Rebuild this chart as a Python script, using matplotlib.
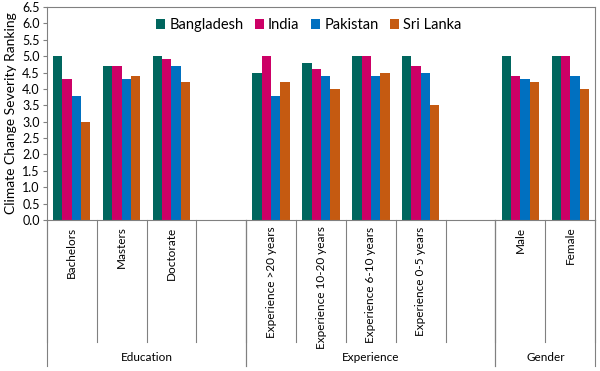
import numpy as np
import matplotlib
matplotlib.use('Agg')
import matplotlib.pyplot as plt

plt.rcParams['font.family'] = ['Lato', 'DejaVu Sans']

categories = ['Bachelors', 'Masters', 'Doctorate', '',
              'Experience >20 years', 'Experience 10-20 years',
              'Experience 6-10 years', 'Experience 0-5 years', '',
              'Male', 'Female']
nan = np.nan
bangladesh = [5.0, 4.7, 5.0, nan, 4.5, 4.8, 5.0, 5.0, nan, 5.0, 5.0]
india      = [4.3, 4.7, 4.9, nan, 5.0, 4.6, 5.0, 4.7, nan, 4.4, 5.0]
pakistan   = [3.8, 4.3, 4.7, nan, 3.8, 4.4, 4.4, 4.5, nan, 4.3, 4.4]
sri_lanka  = [3.0, 4.4, 4.2, nan, 4.2, 4.0, 4.5, 3.5, nan, 4.2, 4.0]
countries = ['Bangladesh', 'India', 'Pakistan', 'Sri Lanka']
colors = ['#00665E', '#CC0066', '#0070C0', '#C55A11']
groups = ['Education', 'Experience', 'Gender']
group_spans = [(0, 4), (4, 9), (9, 11)]

fig = plt.figure(figsize=(6, 3.71), dpi=100)
ax = fig.add_axes([0.078, 0.407, 0.914, 0.574])

x = np.arange(len(categories))
w = 0.187
for i, (vals, c, name) in enumerate(zip([bangladesh, india, pakistan, sri_lanka], colors, countries)):
    ax.bar(x + (i - 1.5) * w, vals, w, color=c, label=name, linewidth=0)

ax.set_xlim(-0.5, len(categories) - 0.5)
ax.set_ylim(0, 6.5)
ax.set_yticks(np.arange(0, 6.51, 0.5))
ax.set_yticklabels(['%.1f' % v for v in np.arange(0, 6.51, 0.5)], fontsize=9)
ax.set_ylabel('Climate Change Severity Ranking', fontsize=10)
ax.tick_params(axis='y', length=3, color='#808080', pad=2)
ax.set_xticks([])
for s in ax.spines.values():
    s.set_color('#808080')
    s.set_linewidth(0.8)

tr = ax.get_xaxis_transform()
# category separators and labels
for k in range(len(categories) + 1):
    ax.plot([k - 0.5, k - 0.5], [0, -0.573], transform=tr, color='#808080', lw=0.8, clip_on=False)
for k, lab in enumerate(categories):
    ax.text(k, -0.03, lab, transform=tr, rotation=90, ha='center', va='top', fontsize=8.5)
# group separators and labels
for (a, b), g in zip(group_spans, groups):
    for e in (a, b):
        ax.plot([e - 0.5, e - 0.5], [0, -0.685], transform=tr, color='#808080', lw=0.8, clip_on=False)
    ax.text((a + b - 1) / 2, -0.648, g, transform=tr, ha='center', va='center', fontsize=8.5)

ax.legend(loc='center', bbox_to_anchor=(0.478, 0.915), ncol=4, frameon=False, fontsize=10.5,
          handlelength=0.6, handleheight=0.6, handletextpad=0.3, columnspacing=0.8)

plt.savefig('out.png', dpi=100)
